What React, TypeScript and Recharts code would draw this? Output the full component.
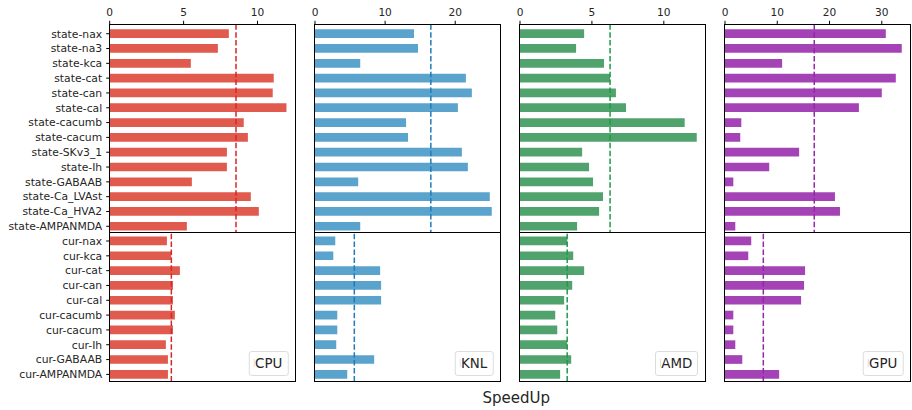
import React from 'react';
import { BarChart, Bar, XAxis, YAxis, ReferenceLine } from 'recharts';

const stateLabels = ['state-nax', 'state-na3', 'state-kca', 'state-cat', 'state-can', 'state-cal', 'state-cacumb', 'state-cacum', 'state-SKv3_1', 'state-Ih', 'state-GABAAB', 'state-Ca_LVAst', 'state-Ca_HVA2', 'state-AMPANMDA'];
const curLabels = ['cur-nax', 'cur-kca', 'cur-cat', 'cur-can', 'cur-cal', 'cur-cacumb', 'cur-cacum', 'cur-Ih', 'cur-GABAAB', 'cur-AMPANMDA'];

const cpuState = [8.06, 7.32, 5.49, 11.10, 11.03, 11.96, 9.07, 9.35, 7.93, 7.93, 5.56, 9.55, 10.09, 5.22];
const cpuCur = [3.87, 4.16, 4.75, 4.28, 4.28, 4.41, 4.28, 3.80, 3.94, 3.94];
const knlState = [14.12, 14.69, 6.45, 21.52, 22.37, 20.38, 12.99, 13.27, 20.95, 21.80, 6.16, 24.93, 25.21, 6.45];
const knlCur = [2.89, 2.61, 9.29, 9.43, 9.43, 3.18, 3.18, 3.03, 8.44, 4.60];
const amdState = [4.46, 3.90, 5.84, 6.26, 6.67, 7.37, 11.45, 12.29, 4.32, 4.80, 5.08, 5.77, 5.50, 3.97];
const amdCur = [3.28, 3.70, 4.46, 3.63, 3.07, 2.45, 2.59, 3.28, 3.56, 2.79];
const gpuState = [30.77, 33.82, 10.93, 32.68, 30.00, 25.62, 3.12, 2.92, 14.18, 8.46, 1.59, 21.04, 22.00, 1.97];
const gpuCur = [5.02, 4.45, 15.32, 15.13, 14.56, 1.59, 1.59, 1.97, 3.31, 10.36];

const cpuTicks = [0, 5, 10];
const knlTicks = [0, 10, 20];
const amdTicks = [0, 5, 10];
const gpuTicks = [0, 10, 20, 30];

const deviceNames = ['CPU', 'KNL', 'AMD', 'GPU'];

const FONT = '"DejaVu Sans", sans-serif';
const TEXT = '#262626';
const TOP = 24.3;
const STATE_H = 208;
const CUR_H = 149.4;
const DIV_Y = TOP + STATE_H;
const PLOT_W = 185.6;
const LEFTS = [109.7, 314.7, 519.7, 724.7];
const PAD = 12;

const mean = (a: number[]) => a.reduce((s, v) => s + v, 0) / a.length;
const toRows = (labels: string[], vals: number[]) => labels.map((name, i) => ({ name, v: vals[i] }));

type PanelProps = {
  name: string;
  state: number[];
  cur: number[];
  ticks: number[];
  color: string;
  lineColor: string;
  left: number;
  showLabels: boolean;
};

function Panel({ name, state, cur, ticks, color, lineColor, left, showLabels }: PanelProps) {
  const max = Math.max(...state, ...cur) * 1.05;
  const yw = showLabels ? left : 0;
  const chartLeft = showLabels ? 0 : left - PAD;
  const mLeft = showLabels ? 0 : PAD;
  const chartW = showLabels ? yw + PLOT_W + PAD : PAD + PLOT_W + PAD;
  const xTickStyle = { fontSize: 10.6, fill: TEXT, fontFamily: FONT };
  const yTickStyle = { fontSize: 10.8, fill: TEXT, fontFamily: FONT };
  const stateRows = toRows(stateLabels, state);
  const curRows = toRows(curLabels, cur);
  return (
    <>
      <div style={{ position: 'absolute', left: chartLeft, top: 0 }}>
        <BarChart width={chartW} height={DIV_Y} data={stateRows} layout="vertical" margin={{ top: 0.3, right: PAD, bottom: 0, left: mLeft }}>
          <XAxis type="number" orientation="top" domain={[0, max]} ticks={ticks} height={24} axisLine={false} tickSize={3.5} tickMargin={4.5} tickLine={{ stroke: '#000' }} tick={xTickStyle} allowDataOverflow />
          <YAxis type="category" dataKey="name" hide={!showLabels} width={yw} interval={0} axisLine={false} tickSize={3.5} tickMargin={4} tickLine={{ stroke: '#000' }} tick={yTickStyle} padding={{ top: 2, bottom: -1.4 }} />
          <Bar dataKey="v" fill={color} barSize={8.7} isAnimationActive={false} />
          <ReferenceLine x={mean(state)} stroke={lineColor} strokeWidth={1.5} strokeDasharray="5.5 2.4" />
        </BarChart>
      </div>
      <div style={{ position: 'absolute', left: chartLeft, top: DIV_Y }}>
        <BarChart width={chartW} height={CUR_H + 10} data={curRows} layout="vertical" margin={{ top: 0, right: PAD, bottom: 0, left: mLeft }}>
          <XAxis type="number" orientation="bottom" domain={[0, max]} ticks={ticks} height={10} axisLine={false} tickSize={5} tick={false} tickLine={{ stroke: '#000' }} allowDataOverflow />
          <YAxis type="category" dataKey="name" hide={!showLabels} width={yw} interval={0} axisLine={false} tickSize={3.5} tickMargin={4} tickLine={{ stroke: '#000' }} tick={yTickStyle} padding={{ top: 1.6, bottom: -0.4 }} />
          <Bar dataKey="v" fill={color} barSize={8.7} isAnimationActive={false} />
          <ReferenceLine x={mean(cur)} stroke={lineColor} strokeWidth={1.5} strokeDasharray="5.5 2.4" />
        </BarChart>
      </div>
      <div style={{ position: 'absolute', left: left - 0.5, top: TOP - 0.5, width: PLOT_W + 1, height: STATE_H + 1, border: '1px solid #000', boxSizing: 'border-box', pointerEvents: 'none' }} />
      <div style={{ position: 'absolute', left: left - 0.5, top: DIV_Y - 0.5, width: PLOT_W + 1, height: CUR_H + 1, border: '1px solid #000', boxSizing: 'border-box', pointerEvents: 'none' }} />
      <div style={{ position: 'absolute', left: left + PLOT_W - 7, top: 351, transform: 'translateX(-100%)', height: 24.7, boxSizing: 'border-box', border: '1px solid #dcdcdc', borderRadius: 3, background: 'rgba(255,255,255,0.85)', padding: '0 5px 0 4px', display: 'flex', alignItems: 'center', whiteSpace: 'nowrap', fontFamily: FONT, fontSize: 13.4, color: TEXT }}>
        <span style={{ display: 'inline-block', width: 1, height: 8, background: color, opacity: 0.25 }} />
        <span>{name}</span>
      </div>
    </>
  );
}

export default function App() {
  const sets = [
    { state: cpuState, cur: cpuCur, ticks: cpuTicks, color: '#e05a4e', lineColor: '#d62728' },
    { state: knlState, cur: knlCur, ticks: knlTicks, color: '#5aa3cc', lineColor: '#1f7cb8' },
    { state: amdState, cur: amdCur, ticks: amdTicks, color: '#50a36c', lineColor: '#1f9a48' },
    { state: gpuState, cur: gpuCur, ticks: gpuTicks, color: '#a443b5', lineColor: '#9426aa' },
  ];
  return (
    <div style={{ position: 'absolute', left: 0, top: 0, width: 912, height: 410, background: '#fff', fontFamily: FONT, overflow: 'hidden' }}>
      {sets.map((s, i) => (
        <Panel key={deviceNames[i]} name={deviceNames[i]} state={s.state} cur={s.cur} ticks={s.ticks} color={s.color} lineColor={s.lineColor} left={LEFTS[i]} showLabels={i === 0} />
      ))}
      <div style={{ position: 'absolute', left: 416.3, top: 391.3, width: 200, textAlign: 'center', fontFamily: FONT, fontSize: 15, lineHeight: '15px', color: TEXT }}>SpeedUp</div>
    </div>
  );
}
